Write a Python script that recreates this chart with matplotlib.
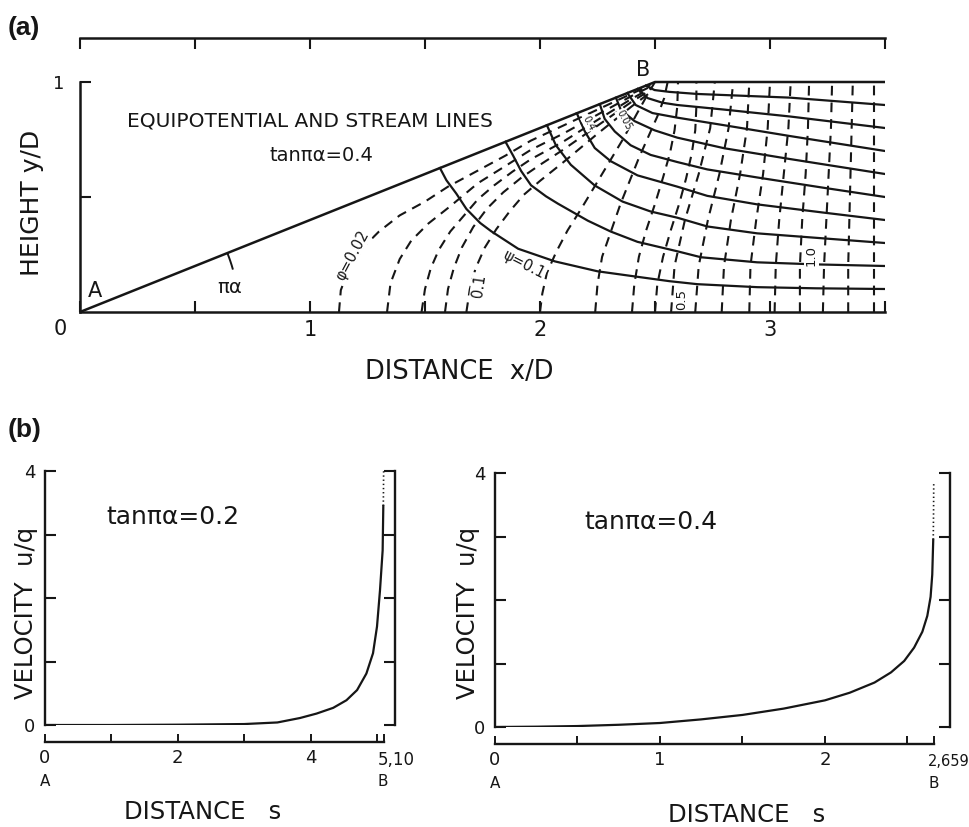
import matplotlib
matplotlib.use("Agg")
import matplotlib.pyplot as plt
import numpy as np
from matplotlib.patches import Arc

plt.rcParams["font.family"] = ["DejaVu Sans"]
plt.rcParams["lines.scale_dashes"] = False

INK = "#161616"
DASH = (0, (7, 5))
W, H = 970, 827

# ---------------------------------------------------------------- (a) flow net
tan_pa = 0.4          # slope of AB
x_end = 3.5           # right edge of the net, x/D

# stream lines psi = 0.1 ... 0.9, from the slope AB out to x/D = 3.5
psi_1 = [(1.565, 0.626), (1.593, 0.573), (1.636, 0.515), (1.68, 0.448), (1.74, 0.387),
         (1.788, 0.351), (1.905, 0.275), (2.065, 0.22), (2.25, 0.177), (2.424, 0.153),
         (2.563, 0.134), (2.684, 0.121), (2.944, 0.108), (3.2, 0.103), (3.5, 0.10)]
psi_2 = [(1.85, 0.74), (1.883, 0.68), (1.918, 0.613), (1.961, 0.551), (2.026, 0.503),
         (2.078, 0.471), (2.208, 0.397), (2.307, 0.35), (2.424, 0.305), (2.597, 0.264),
         (2.70, 0.238), (2.944, 0.216), (3.20, 0.207), (3.5, 0.20)]
psi_3 = [(2.03, 0.812), (2.069, 0.725), (2.134, 0.64), (2.238, 0.55), (2.359, 0.48),
         (2.481, 0.437), (2.597, 0.41), (2.727, 0.372), (2.944, 0.342), (3.234, 0.32),
         (3.5, 0.30)]
psi_4 = [(2.16, 0.864), (2.195, 0.785), (2.238, 0.713), (2.307, 0.656), (2.424, 0.594),
         (2.597, 0.545), (2.727, 0.505), (2.944, 0.468), (3.234, 0.432), (3.5, 0.40)]
psi_5 = [(2.26, 0.904), (2.281, 0.84), (2.325, 0.785), (2.394, 0.725), (2.481, 0.683),
         (2.597, 0.652), (2.727, 0.62), (2.944, 0.585), (3.234, 0.54), (3.5, 0.50)]
psi_6 = [(2.33, 0.932), (2.351, 0.88), (2.411, 0.83), (2.498, 0.79), (2.597, 0.758),
         (2.801, 0.712), (3.087, 0.665), (3.5, 0.60)]
psi_7 = [(2.38, 0.952), (2.416, 0.90), (2.489, 0.865), (2.597, 0.845), (2.801, 0.812),
         (3.087, 0.765), (3.5, 0.70)]
psi_8 = [(2.425, 0.97), (2.468, 0.93), (2.532, 0.91), (2.597, 0.90), (2.801, 0.88),
         (3.087, 0.85), (3.5, 0.80)]
psi_9 = [(2.46, 0.984), (2.498, 0.965), (2.563, 0.957), (2.684, 0.948), (3.087, 0.932),
         (3.5, 0.90)]

# equipotentials near the corner A, hugging the slope towards B
phi_002 = [(1.126, 0.0), (1.134, 0.095), (1.17, 0.19), (1.23, 0.28), (1.30, 0.35),
           (1.39, 0.42), (1.50, 0.48), (1.60, 0.545), (1.73, 0.615), (1.85, 0.68),
           (1.96, 0.745), (2.10, 0.81), (2.25, 0.88), (2.40, 0.95), (2.48, 0.986)]
phi_004 = [(1.335, 0.0), (1.35, 0.125), (1.39, 0.23), (1.44, 0.31), (1.515, 0.385),
           (1.61, 0.46), (1.73, 0.56), (1.85, 0.635), (1.96, 0.705), (2.10, 0.775),
           (2.25, 0.858), (2.40, 0.94), (2.48, 0.98)]
phi_006 = [(1.485, 0.0), (1.50, 0.10), (1.525, 0.19), (1.56, 0.27), (1.61, 0.35),
           (1.67, 0.42), (1.73, 0.49), (1.80, 0.55), (1.88, 0.61), (1.96, 0.664),
           (2.10, 0.74), (2.25, 0.835), (2.40, 0.928), (2.48, 0.972)]
phi_008 = [(1.587, 0.0), (1.60, 0.10), (1.625, 0.19), (1.66, 0.28), (1.71, 0.37),
           (1.77, 0.45), (1.84, 0.52), (1.92, 0.585), (2.0, 0.64), (2.10, 0.705),
           (2.25, 0.81), (2.40, 0.915), (2.48, 0.965)]
phi_010 = [(1.68, 0.0), (1.695, 0.10), (1.72, 0.19), (1.76, 0.28), (1.81, 0.36),
           (1.87, 0.44), (1.93, 0.51), (2.0, 0.57), (2.10, 0.65), (2.25, 0.775),
           (2.40, 0.895), (2.48, 0.955)]
# equipotentials from the bottom round B to the top wall
phi_020 = [(2.0, 0.0), (2.01, 0.08), (2.03, 0.17), (2.07, 0.26), (2.12, 0.355),
           (2.18, 0.45), (2.24, 0.55), (2.30, 0.65), (2.36, 0.75), (2.42, 0.86),
           (2.47, 0.95), (2.50, 1.0)]
phi_030 = [(2.24, 0.0), (2.25, 0.12), (2.27, 0.24), (2.31, 0.355), (2.35, 0.47),
           (2.39, 0.57), (2.43, 0.67), (2.47, 0.76), (2.51, 0.85), (2.54, 0.93),
           (2.555, 1.0)]
phi_040 = [(2.40, 0.0), (2.41, 0.12), (2.43, 0.24), (2.46, 0.35), (2.50, 0.47),
           (2.535, 0.585), (2.565, 0.69), (2.585, 0.79), (2.597, 0.895), (2.60, 1.0)]
phi_050 = [(2.50, 0.0), (2.51, 0.12), (2.535, 0.24), (2.57, 0.36), (2.605, 0.47),
           (2.635, 0.58), (2.66, 0.69), (2.675, 0.79), (2.68, 0.895), (2.68, 1.0)]
# nearly vertical equipotentials further right, sampled at these heights
far_y = [0.0, 0.2, 0.4, 0.6, 0.8, 1.0]
far_x = [
    [2.57, 2.585, 2.63, 2.69, 2.74, 2.76],
    [2.675, 2.69, 2.73, 2.78, 2.82, 2.84],
    [2.79, 2.80, 2.83, 2.87, 2.90, 2.91],
    [2.91, 2.915, 2.94, 2.97, 2.99, 3.0],
    [3.02, 3.025, 3.04, 3.06, 3.08, 3.09],
    [3.13, 3.13, 3.14, 3.155, 3.165, 3.17],
    [3.23, 3.235, 3.245, 3.255, 3.265, 3.27],
    [3.34, 3.34, 3.345, 3.35, 3.355, 3.36],
    [3.45, 3.45, 3.45, 3.45, 3.45, 3.45],
]

stream_lines = [psi_1, psi_2, psi_3, psi_4, psi_5, psi_6, psi_7, psi_8, psi_9]
potential_lines = [phi_002, phi_004, phi_006, phi_008, phi_010,
                   phi_020, phi_030, phi_040, phi_050]
potential_lines += [list(zip(xs, far_y)) for xs in far_x]

# ------------------------------------------------------- (b) velocity along AB
s_02 = [0.0, 1.0, 2.0, 3.0, 3.5, 3.84, 4.09, 4.34, 4.54, 4.70, 4.84, 4.94, 5.0,
        5.045, 5.085, 5.095]
u_02 = [0.0, 0.0, 0.005, 0.015, 0.04, 0.11, 0.18, 0.27, 0.39, 0.55, 0.81, 1.13, 1.55,
        2.12, 2.75, 3.45]
s_02_tail = [5.095, 5.098, 5.10]
u_02_tail = [3.45, 3.75, 4.0]
s_B_02 = 5.10

s_04 = [0.0, 0.25, 0.5, 0.75, 1.0, 1.25, 1.5, 1.75, 2.0, 2.15, 2.3, 2.4, 2.48, 2.54,
        2.59, 2.62, 2.64, 2.65, 2.656]
u_04 = [0.0, 0.005, 0.015, 0.035, 0.063, 0.12, 0.19, 0.29, 0.42, 0.54, 0.70, 0.86,
        1.04, 1.25, 1.50, 1.75, 2.05, 2.40, 2.95]
s_04_tail = [2.656, 2.658, 2.659]
u_04_tail = [2.95, 3.4, 3.85]
s_B_04 = 2.659


def px_text(px, py, s, **kw):
    """Place figure text at a pixel position (origin top-left)."""
    return fig.text(px / W, 1 - py / H, s, **kw)


fig = plt.figure(figsize=(W / 100, H / 100), dpi=100)
fig.patch.set_facecolor("white")

# ------------------------------------------------------------------ panel (a)
ax = fig.add_axes([80 / W, (H - 312) / H, 805 / W, 274 / H])
ax.set_xlim(0, x_end)
ax.set_ylim(0, 274 / 230)

for line in potential_lines:
    xs, ys = zip(*line)
    ax.plot(xs, ys, color=INK, lw=1.5, ls=DASH, solid_capstyle="butt")
for line in stream_lines:
    xs, ys = zip(*line)
    ax.plot(xs, ys, color=INK, lw=1.6)

# wall A-B-top
x_B = 1 / tan_pa
ax.plot([0, x_B, x_end], [0, 1, 1], color=INK, lw=1.8)

ang = np.degrees(np.arctan(tan_pa))
ax.add_patch(Arc((0, 0), 1.38, 1.38, theta1=15.5, theta2=ang, color=INK, lw=1.4))
ax.text(0.65, 0.108, "πα", fontsize=14, ha="center", va="center", color=INK)
ax.text(0.065, 0.09, "A", fontsize=15, ha="center", va="center", color=INK)
ax.text(x_B - 0.05, 1.05, "B", fontsize=15, ha="center", va="center", color=INK)

ax.text(1.0, 0.83, "EQUIPOTENTIAL AND STREAM LINES", fontsize=14.5,
        ha="center", va="center", color=INK)
ax.text(1.05, 0.68, "tanπα=0.4", fontsize=14, ha="center", va="center", color=INK)

box = dict(facecolor="white", edgecolor="none", pad=0.6)
ax.text(1.185, 0.245, "φ=0.02", fontsize=10.5, rotation=62, ha="center", va="center",
        color=INK, bbox=box)
ax.text(1.735, 0.115, "0.1", fontsize=10.5, rotation=82, ha="center", va="center",
        color=INK, bbox=box)
ax.text(1.93, 0.205, "ψ=0.1", fontsize=10.5, rotation=-27, ha="center", va="center",
        color=INK, bbox=box)
ax.text(2.615, 0.055, "0.5", fontsize=9.5, rotation=90, ha="center", va="center",
        color=INK, bbox=box)
ax.text(3.18, 0.245, "1.0", fontsize=9.5, rotation=90, ha="center", va="center",
        color=INK, bbox=box)
ax.text(2.21, 0.82, "0.4", fontsize=7, rotation=-62, ha="center", va="center",
        color=INK, bbox=dict(facecolor="white", edgecolor="none", pad=0.2))
ax.text(2.365, 0.835, "0.05", fontsize=7, rotation=-62, ha="center", va="center",
        color=INK, bbox=dict(facecolor="white", edgecolor="none", pad=0.2))

ax.spines["right"].set_visible(False)
ax.spines["left"].set_bounds(0, 1)
for sp in ("left", "bottom", "top"):
    ax.spines[sp].set_linewidth(1.8)
    ax.spines[sp].set_color(INK)
ax.set_xticks([1, 2, 3])
ax.set_xticks([0, 0.5, 1.5, 2.5, 3.5], minor=True)
ax.set_yticks([1])
ax.set_yticks([0.5], minor=True)
ax.tick_params(which="both", direction="in", top=True, right=False, length=8,
               width=1.5, colors=INK, labelsize=15)
ax.tick_params(axis="x", pad=6)
ax.tick_params(axis="y", pad=11, labelsize=13)
ax.text(-0.088, -0.075, "0", fontsize=15, ha="center", va="center", color=INK,
        clip_on=False)

px_text(32, 203, "HEIGHT y/D", fontsize=18, rotation=90, ha="center", va="center",
        color=INK)
px_text(365, 372, "DISTANCE  x/D", fontsize=18.5, ha="left", va="center", color=INK)
px_text(8, 28, "(a)", fontsize=19, fontweight="bold", family="Liberation Sans",
        ha="left", va="center", color=INK)
px_text(8, 430, "(b)", fontsize=19, fontweight="bold", family="Liberation Sans",
        ha="left", va="center", color=INK)


# ------------------------------------------------------------------ panel (b)
def velocity_panel(rect, s, u, s_tail, u_tail, s_B, x_max, major, minor, title, title_xy):
    axv = fig.add_axes(rect)
    axv.plot(s, u, color=INK, lw=1.6)
    axv.plot(s_tail, u_tail, color=INK, lw=1.2, ls=(0, (1, 2)))
    axv.set_xlim(0, x_max)
    axv.set_ylim(0, 4)
    axv.spines["top"].set_visible(False)
    axv.spines["left"].set_bounds(0, 4)
    axv.spines["right"].set_bounds(0, 4)
    axv.spines["bottom"].set_position(("outward", 12))
    axv.spines["bottom"].set_bounds(0, s_B)
    for sp in ("left", "right", "bottom"):
        axv.spines[sp].set_linewidth(1.7)
        axv.spines[sp].set_color(INK)
    axv.set_xticks(major)
    axv.set_xticks(minor, minor=True)
    axv.set_yticks([0, 1, 2, 3, 4])
    axv.set_yticklabels(["0", "", "", "", "4"])
    axv.get_yticklabels()[-1].set_fontsize(9)
    axv.tick_params(axis="y", which="both", direction="in", left=True, right=True,
                    length=8, width=1.5, colors=INK, labelsize=13, pad=7)
    axv.tick_params(axis="x", which="both", direction="in", length=6, width=1.4,
                    colors=INK, labelsize=13, pad=5)
    axv.text(*title_xy, title, fontsize=18, ha="center", va="center", color=INK)
    return axv


velocity_panel([45 / W, (H - 725) / H, 350 / W, 254 / H], s_02, u_02, s_02_tail,
               u_02_tail, s_B_02, 350 / 66.4, [0, 2, 4], [1, 3, 5, s_B_02],
               "tanπα=0.2", (1.93, 3.28))
velocity_panel([495 / W, (H - 727) / H, 455 / W, 254 / H], s_04, u_04, s_04_tail,
               u_04_tail, s_B_04, 455 / 165, [0, 1, 2], [0.5, 1.5, 2.5, s_B_04],
               "tanπα=0.4", (0.945, 3.23))

px_text(378, 760, "5,10", fontsize=12, ha="left", va="center", color=INK)
px_text(928, 762, "2,659", fontsize=10.5, ha="left", va="center", color=INK)
for x0, end_px, a_y in ((45, 383, 782), (495, 934, 784)):
    px_text(x0, a_y, "A", fontsize=11, ha="center", va="center", color=INK)
    px_text(end_px, a_y, "B", fontsize=11, ha="center", va="center", color=INK)

px_text(26, 613, "VELOCITY  u/q", fontsize=17.5, rotation=90, ha="center",
        va="center", color=INK)
px_text(468, 613, "VELOCITY  u/q", fontsize=17.5, rotation=90, ha="center",
        va="center", color=INK)
px_text(203, 812, "DISTANCE   s", fontsize=17.5, ha="center", va="center", color=INK)
px_text(747, 815, "DISTANCE   s", fontsize=17.5, ha="center", va="center", color=INK)

fig.savefig("out.png", dpi=100, facecolor="white")
